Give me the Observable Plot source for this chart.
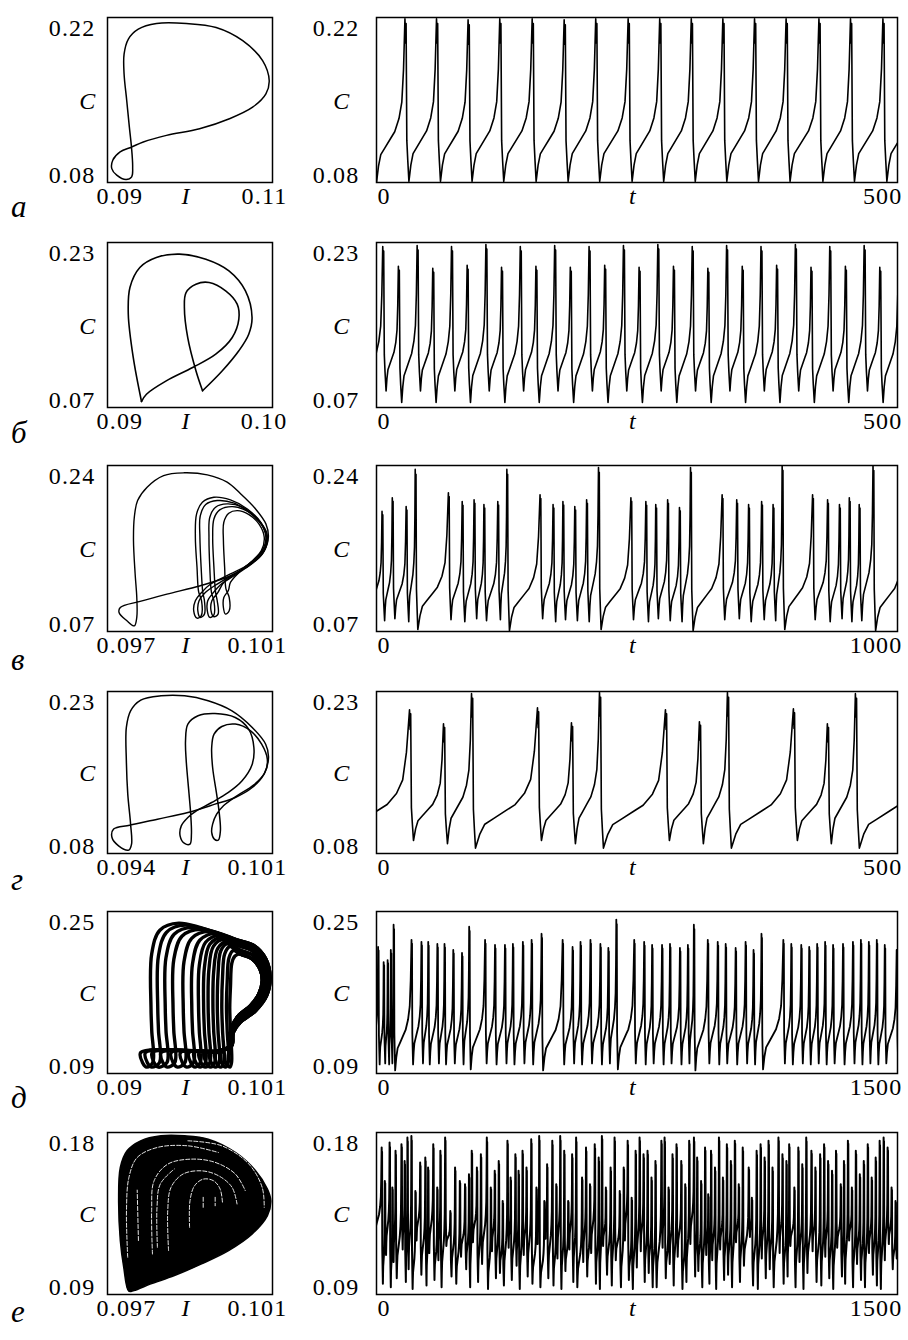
<!DOCTYPE html>
<html><head><meta charset="utf-8">
<script src="https://cdn.jsdelivr.net/npm/d3@7"></script>
<script src="https://cdn.jsdelivr.net/npm/@observablehq/plot@0.6"></script>
<style>
body{margin:0;background:#fff;}
#fig{position:relative;width:908px;height:1340px;background:#fff;overflow:hidden;}
.panel{position:absolute;}
.letter{position:absolute;font-family:"Liberation Serif","Times New Roman",serif;font-style:italic;font-size:31px;line-height:1;color:#000;}
</style></head><body><div id="fig"></div>
<script>
// ---------------- axes / labels ----------------
const rowLetters = ["а","б","в","г","д","е"];
const phaseIDomain = [[0.09,0.11],[0.09,0.10],[0.097,0.101],[0.094,0.101],[0.09,0.101],[0.097,0.101]];
const phaseILabels = [["0.09","0.11"],["0.09","0.10"],["0.097","0.101"],["0.094","0.101"],["0.09","0.101"],["0.097","0.101"]];
const cDomain = [[0.08,0.22],[0.07,0.23],[0.07,0.24],[0.08,0.23],[0.09,0.25],[0.09,0.18]];
const cLabels = [["0.08","0.22"],["0.07","0.23"],["0.07","0.24"],["0.08","0.23"],["0.09","0.25"],["0.09","0.18"]];
const tMax = [500,500,1000,500,1500,1500];
const tLabels = [["0","500"],["0","500"],["0","1000"],["0","500"],["0","1500"],["0","1500"]];

// ---------------- phase portraits (I, C) ----------------
const phaseA = [[0.09594,0.2149],[0.09956,0.2149],[0.10317,0.2115],[0.10639,0.2003],[0.1088,0.1834],[0.1096,0.1665],[0.1092,0.1552],[0.10759,0.1439],[0.10478,0.1341],[0.10116,0.1256],[0.09715,0.12],[0.09434,0.1144],[0.09293,0.1101],[0.09153,0.1059],[0.09064,0.0989],[0.09052,0.0918],[0.09112,0.0862],[0.09225,0.0825],[0.09293,0.0848],[0.09305,0.0932],[0.0929,0.1105],[0.09265,0.127],[0.09233,0.1496],[0.09201,0.1721],[0.09201,0.189],[0.09253,0.2017],[0.09373,0.2101]];

const phaseBOuter = [[0.09206,0.0758],[0.09156,0.1185],[0.09126,0.1605],[0.09136,0.1864],[0.09196,0.2058],[0.09296,0.2155],[0.09436,0.2187],[0.09596,0.2138],[0.09736,0.2025],[0.09836,0.1831],[0.09876,0.1573],[0.09856,0.1411],[0.09796,0.125],[0.09696,0.1056],[0.09576,0.0862]];
const phaseBInner = [[0.09576,0.0862],[0.09536,0.1056],[0.09486,0.1379],[0.09466,0.167],[0.09476,0.1815],[0.09536,0.1896],[0.09616,0.1912],[0.09716,0.1831],[0.09786,0.1702],[0.09796,0.1557],[0.09756,0.1379],[0.09656,0.1217],[0.09516,0.1088],[0.09356,0.0958],[0.09236,0.0829],[0.09206,0.0758]];

const phaseVOuter = [[0.09771,0.1049],[0.09767,0.1289],[0.09763,0.1631],[0.09765,0.187],[0.09773,0.2041],[0.09796,0.2178],[0.09836,0.2297],[0.09885,0.2325],[0.09942,0.2304],[0.0999,0.2229],[0.10023,0.2109],[0.10059,0.1955],[0.10084,0.1802],[0.1009,0.1665],[0.1008,0.1528],[0.10047,0.1391],[0.09998,0.1271],[0.09925,0.1169],[0.09844,0.1083],[0.09779,0.1008],[0.09731,0.0946],[0.09728,0.0895],[0.09747,0.081],[0.09765,0.0758],[0.09771,0.0845]];
const phaseV1 = [[0.09921,0.1105],[0.09917,0.1357],[0.09913,0.1665],[0.09916,0.1904],[0.0993,0.2024],[0.09958,0.2075],[0.09998,0.2048],[0.10039,0.1955],[0.10071,0.1819],[0.10084,0.1665],[0.10075,0.1528],[0.10043,0.1391],[0.09998,0.1289],[0.0995,0.1186],[0.09927,0.1095],[0.09913,0.1015],[0.09909,0.0912],[0.09917,0.0837],[0.09927,0.0861],[0.09928,0.1015]];
const phaseV2 = [[0.09931,0.11],[0.09927,0.1357],[0.09924,0.1665],[0.09925,0.1887],[0.09938,0.2],[0.09966,0.2041],[0.10007,0.2014],[0.10043,0.1921],[0.10075,0.1784],[0.10086,0.1648],[0.10078,0.1511],[0.10047,0.1384],[0.10007,0.1289],[0.09966,0.1186],[0.09936,0.1095],[0.09922,0.1015],[0.09919,0.0912],[0.09925,0.0844],[0.09935,0.0878],[0.09935,0.1015]];
const phaseV3 = [[0.09952,0.11],[0.09948,0.1357],[0.09946,0.1665],[0.09948,0.187],[0.09962,0.1973],[0.0999,0.2007],[0.10027,0.1973],[0.10059,0.187],[0.10084,0.1733],[0.10088,0.1631],[0.10075,0.1494],[0.10043,0.1374],[0.10007,0.1271],[0.09974,0.1179],[0.09956,0.1095],[0.09943,0.1015],[0.09942,0.0912],[0.09948,0.0844],[0.09958,0.0871],[0.09958,0.1015]];
const phaseV4 = [[0.09962,0.11],[0.09958,0.1357],[0.09955,0.1665],[0.09958,0.1853],[0.09972,0.1945],[0.10003,0.1979],[0.10039,0.1932],[0.10071,0.1819],[0.10085,0.1682],[0.1008,0.1545],[0.10051,0.1418],[0.10015,0.1306],[0.09982,0.1203],[0.09967,0.1095],[0.09953,0.1015],[0.09951,0.0912],[0.09958,0.0851],[0.09968,0.0878],[0.09966,0.1015]];
const phaseV5 = [[0.09987,0.114],[0.09984,0.1357],[0.09981,0.1631],[0.09982,0.1819],[0.09994,0.1911],[0.10015,0.1938],[0.10043,0.1897],[0.10067,0.1802],[0.1008,0.1665],[0.10073,0.1528],[0.10047,0.1408],[0.10019,0.1306],[0.09998,0.1203],[0.09993,0.112],[0.09982,0.1049],[0.09981,0.0946],[0.09986,0.0878],[0.09995,0.0912],[0.09995,0.1049]];

const phaseGBig = [[0.09498,0.1072],[0.09486,0.135],[0.0948,0.1658],[0.0948,0.1967],[0.09498,0.2121],[0.09541,0.222],[0.09627,0.226],[0.09727,0.226],[0.09827,0.2214],[0.09928,0.2121],[0.10014,0.1967],[0.10071,0.1812],[0.10083,0.1689],[0.10064,0.1535],[0.10014,0.1411],[0.09942,0.1319],[0.09856,0.1257],[0.09741,0.118],[0.09612,0.1118],[0.09494,0.1062],[0.09426,0.1026],[0.09419,0.0948],[0.09447,0.0871],[0.0949,0.0831],[0.09502,0.0887]];
const phaseGMid = [[0.09753,0.1164],[0.09746,0.135],[0.09734,0.1658],[0.09731,0.1843],[0.09741,0.1998],[0.09784,0.2075],[0.09856,0.2096],[0.09942,0.2059],[0.09999,0.1951],[0.10021,0.1782],[0.10014,0.1627],[0.09971,0.1473],[0.09913,0.1365],[0.09842,0.1272],[0.09777,0.1195],[0.09741,0.1134],[0.09713,0.1056],[0.09708,0.0964],[0.09727,0.0893],[0.0975,0.0887],[0.09756,0.0979]];
const phaseGSmall = [[0.09873,0.1195],[0.09863,0.135],[0.09846,0.1596],[0.09842,0.1782],[0.09852,0.1905],[0.09885,0.1976],[0.09942,0.1998],[0.10007,0.1936],[0.10054,0.1812],[0.10078,0.1674],[0.10068,0.155],[0.10021,0.1436],[0.09949,0.1334],[0.09892,0.1242],[0.09863,0.1164],[0.09846,0.1072],[0.09842,0.0995],[0.09853,0.0933],[0.0987,0.0924],[0.09879,0.101]];

// д: bundle of loops — per-loop left leg, top, hook, and which right lobe it follows
const phaseDLegI = [0.09295,0.0934,0.0939,0.09442,0.0951,0.09567,0.09612,0.09646,0.09676,0.09708,0.09737,0.09767,0.09798,0.0982];
const phaseDTopC = [0.2385,0.2365,0.2345,0.2325,0.2305,0.2286,0.2266,0.2246,0.2226,0.2206,0.218,0.2154,0.2114,0.206];
const phaseDTopDI = [0.0018,0.0018,0.0018,0.0018,0.0017,0.0016,0.0014,0.0012,0.001,0.0009,0.0006,0.0005,0.0004,0.0003];
const phaseDHookI = [0.09222,0.09254,0.09299,0.09358,0.09426,0.09488,0.09544,0.09578,0.09612,0.09646,0.0968,0.09714,0.09748,0.09776];
const phaseDRightIdx = [0,3,0,3,0,1,4,1,4,1,2,2,2,2];
const phaseDHookDI = [0,0.00011,0.0004];
const phaseDHookC = [0.1108,0.1009,0.0963];
const phaseDRight = [
  [[0.09862,0.222],[0.09975,0.2164],[0.10055,0.2032],[0.10084,0.185],[0.10061,0.1669],[0.09987,0.152],[0.09885,0.1405],[0.09839,0.1306],[0.09828,0.1174],[0.09748,0.1124]],
  [[0.09873,0.2164],[0.09964,0.2114],[0.10032,0.1999],[0.10055,0.1834],[0.10032,0.1685],[0.09964,0.1553],[0.09873,0.1438],[0.09835,0.1322],[0.09823,0.1174],[0.09737,0.1118]],
  [[0.09885,0.2081],[0.09964,0.2032],[0.10016,0.1933],[0.10032,0.1817],[0.10009,0.1685],[0.09953,0.157],[0.09873,0.1471],[0.09828,0.1355],[0.09816,0.1174],[0.09726,0.1108]],
  [[0.09868,0.2192],[0.0997,0.2139],[0.10044,0.2016],[0.1007,0.1842],[0.10047,0.1677],[0.09976,0.1537],[0.09879,0.1422],[0.09837,0.1314],[0.09826,0.1174],[0.09742,0.1121]],
  [[0.09879,0.2122],[0.09964,0.2073],[0.10024,0.1966],[0.10044,0.1826],[0.10021,0.1685],[0.09959,0.1562],[0.09873,0.1455],[0.09832,0.1339],[0.0982,0.1174],[0.09732,0.1113]]
];

// е: filled chaotic attractor outline and the light gaps inside it
const phaseEOutline = [[0.097516,0.09185],[0.097393,0.10515],[0.097311,0.11994],[0.09727,0.14212],[0.097311,0.1606],[0.097475,0.16984],[0.097803,0.17538],[0.098295,0.17815],[0.098869,0.17815],[0.099443,0.1763],[0.100098,0.16891],[0.10059,0.15875],[0.100877,0.14858],[0.100959,0.14212],[0.100877,0.1338],[0.100508,0.12364],[0.099935,0.1144],[0.099279,0.10701],[0.098623,0.10053],[0.098049,0.09591],[0.097639,0.09222]];
const phaseEGaps = [
  [[0.09749,0.1107],[0.09746,0.1366],[0.09752,0.1551],[0.09772,0.1661],[0.09821,0.1717],[0.09895,0.1726],[0.09969,0.1689]],
  [[0.09809,0.1125],[0.09807,0.1366],[0.09813,0.1532],[0.09846,0.1624],[0.09903,0.1652],[0.09961,0.1634],[0.1001,0.1569],[0.10034,0.1477]],
  [[0.09848,0.1144],[0.09846,0.1366],[0.09854,0.1495],[0.09883,0.1569],[0.09928,0.1587],[0.09969,0.156],[0.10002,0.1495],[0.10014,0.1403]],
  [[0.09899,0.1273],[0.099,0.1421],[0.09911,0.1504],[0.09932,0.1541],[0.09957,0.1532],[0.09973,0.1486],[0.09979,0.1403]],
  [[0.09821,0.1162],[0.0982,0.1384],[0.09828,0.1514],[0.09862,0.1597]],
  [[0.09895,0.1754],[0.09977,0.1726],[0.10043,0.1624],[0.10075,0.1495],[0.1008,0.1384]],
  [[0.09932,0.144],[0.09932,0.1384]],
  [[0.09961,0.144],[0.09961,0.1393]],
  [[0.09775,0.1200],[0.09772,0.1480]]
];

// ---------------- time series C(t): spike times, peak values, trough before each peak ----------------
const riseU = [0,0.07,0.15,0.29,0.5,0.64,0.79,0.89,0.95,1];
const riseV = [0,0.1,0.17,0.21,0.27,0.31,0.39,0.49,0.69,1];
const fallV = [1,0.85,0.97,0.25,0.13,0];

const tsAStart = 0;
const tsAPeakT = [27.3,57.6,87.9,118.3,149.4,180.1,210.4,241.5,271.8,302.1,332.4,362.8,393.1,424.6,454.9,486.0,516.5];
const tsAPeakC = [0.219,0.219,0.218,0.219,0.219,0.218,0.219,0.219,0.219,0.219,0.219,0.219,0.219,0.219,0.219,0.219,0.219];
const tsATroughC = [0.08,0.081,0.081,0.081,0.081,0.081,0.081,0.081,0.081,0.081,0.081,0.081,0.081,0.081,0.081,0.081,0.081];
const tsAFallDT = [0,0.6,1.1,1.8,2.7,3.8];

const tsBStart = -12;
const tsBPeakT = [6,21,39,54,72,87,105,120,138,153,171,186,204,219,237,252,270,285,303,318,336,351,369,384,402,417,435,450,468,483,501,516];
const tsBPeakC = [0.226,0.207,0.227,0.205,0.226,0.208,0.228,0.206,0.226,0.207,0.227,0.206,0.226,0.208,0.227,0.206,0.228,0.207,0.226,0.205,0.227,0.207,0.226,0.208,0.228,0.206,0.226,0.207,0.227,0.206,0.226,0.207];
const tsBTroughC = [0.075,0.086,0.075,0.086,0.075,0.086,0.075,0.086,0.075,0.086,0.075,0.086,0.075,0.086,0.075,0.086,0.075,0.086,0.075,0.086,0.075,0.086,0.075,0.086,0.075,0.086,0.075,0.086,0.075,0.086,0.075,0.086];
const tsBFallDT = [0,0.5,0.9,1.5,2.2,3.2];

const tsVStart = -6;
const tsVPeakT = [10.6,30.3,56.9,74.3,138,164.5,187.3,206.2,232.8,250.2,313.9,338.9,357.8,380.6,403.3,426.1,488.3,517,536,558.8,581.5,602.7,663.4,691.4,714.2,739.2,761.2,778.6,837,865.8,888.6,907.5,926.5,953,1015];
const tsVPeakC = [0.193,0.207,0.198,0.236,0.212,0.203,0.205,0.2,0.203,0.236,0.21,0.2,0.203,0.198,0.205,0.238,0.207,0.203,0.2,0.205,0.197,0.238,0.21,0.205,0.2,0.203,0.2,0.24,0.21,0.205,0.2,0.207,0.2,0.24,0.21];
const tsVTroughC = [0.09,0.081,0.083,0.08,0.072,0.082,0.08,0.083,0.081,0.082,0.071,0.083,0.08,0.082,0.081,0.08,0.072,0.082,0.08,0.083,0.081,0.08,0.071,0.082,0.083,0.08,0.082,0.081,0.072,0.082,0.08,0.083,0.08,0.081,0.071];
const tsVFallDT = [0,0.8,1.5,2.4,3.6,5];

const tsGStart = -28;
const tsGPeakT = [31.7,64.3,91.2,154.5,187.1,214,277.3,309.9,336.8,400.1,432.7,459.6,522.9];
const tsGPeakC = [0.213,0.2,0.228,0.215,0.201,0.229,0.213,0.202,0.229,0.214,0.2,0.228,0.214];
const tsGTroughC = [0.086,0.092,0.089,0.085,0.092,0.089,0.085,0.092,0.089,0.085,0.092,0.089,0.085];
const tsGFallDT = [0,0.6,1.1,1.8,2.7,3.8];

const tsDStart = -10;
const tsDPeakT = [4.6,20.6,32,41.2,49.2,100.8,129.4,148.9,175.2,195.8,221,246.2,266.8,312.6,341.2,369.8,392.7,421.4,446.6,475.2,535.9,564.5,587.4,616,644.6,667.5,690.4,742,770.6,793.5,822.1,845,873.6,896.5,913.7,953.8,982.4,1005.3,1034,1062.6,1085.5,1108.4,1171.3,1194.2,1222.9,1245.8,1268.7,1291.6,1314.5,1343.1,1371.7,1394.6,1417.5,1440.4,1463.3,1497.6,1520];
const tsDPeakC = [0.215,0.2,0.202,0.212,0.237,0.222,0.22,0.22,0.218,0.218,0.212,0.209,0.235,0.222,0.217,0.217,0.218,0.22,0.222,0.228,0.222,0.215,0.22,0.222,0.218,0.214,0.242,0.222,0.22,0.217,0.217,0.218,0.214,0.217,0.237,0.222,0.22,0.218,0.214,0.22,0.212,0.228,0.222,0.218,0.217,0.215,0.218,0.22,0.217,0.218,0.22,0.222,0.22,0.222,0.217,0.212,0.22];
const tsDTroughC = [0.105,0.099,0.1,0.099,0.1,0.093,0.099,0.1,0.099,0.1,0.099,0.1,0.099,0.094,0.1,0.099,0.1,0.099,0.1,0.099,0.093,0.099,0.1,0.099,0.1,0.099,0.1,0.094,0.1,0.099,0.1,0.099,0.1,0.099,0.1,0.093,0.1,0.099,0.1,0.099,0.1,0.099,0.094,0.1,0.099,0.1,0.099,0.1,0.099,0.1,0.099,0.1,0.099,0.1,0.099,0.1,0.099];
const tsDFallDT = [0,0.8,1.5,2.3,3.3,4.5];

const tsEStart = -6;
const tsEPeakT = [14.9,24,37.7,45.7,54.8,71.9,81,89,100.5,111.9,125.7,140.5,148.5,163.4,174.8,183.9,197.6,212.5,226.2,239.9,254.8,266.2,274.2,289,300.5,317.6,329,340.4,351.9,363.3,377,386.1,399.8,409,420.4,431.8,445.5,460.4,468.4,483.2,491.2,506.1,517.5,528.9,540.4,551.8,563.2,574.7,591.8,603.2,614.6,628.3,639.7,648.9,660.3,674,685.4,700.3,711.7,723.1,734.6,746,757.4,768.8,780.3,791.7,803.1,820.2,829.4,840.8,852.2,863.7,877.4,888.8,900.2,913.9,923.1,934.5,945.9,955,963.1,974.5,985.9,997.3,1008.7,1020.2,1031.6,1043,1054.4,1071.6,1080.7,1094.4,1105.8,1117.3,1128.7,1140.1,1157.2,1168.7,1180.1,1188.1,1203,1214.4,1225.8,1237.2,1252.1,1263.5,1277.2,1288.6,1300.1,1311.5,1322.9,1336.6,1345.8,1357.2,1368.6,1380,1391.5,1402.9,1414.3,1425.7,1437.2,1448.6,1460,1471.5,1482.9,1494.3,1506];
const tsEPeakC = [0.1716,0.1531,0.1744,0.1494,0.1698,0.1735,0.1642,0.1772,0.1781,0.1475,0.1633,0.1661,0.1605,0.1735,0.1494,0.1698,0.1772,0.1364,0.1605,0.1531,0.1512,0.1568,0.1698,0.1605,0.1679,0.1772,0.1494,0.1587,0.1642,0.142,0.1754,0.155,0.1679,0.1587,0.1698,0.1605,0.1763,0.1494,0.1781,0.142,0.1624,0.1754,0.1512,0.1781,0.1698,0.142,0.1679,0.1772,0.155,0.1716,0.1512,0.1735,0.1661,0.1781,0.1494,0.1605,0.1772,0.1475,0.1605,0.1754,0.1438,0.1698,0.1772,0.1679,0.1698,0.155,0.1642,0.1754,0.1772,0.1494,0.1679,0.1735,0.1642,0.1512,0.1754,0.1772,0.1661,0.1531,0.1716,0.1457,0.1698,0.1605,0.1772,0.155,0.1735,0.1642,0.1754,0.1512,0.1716,0.1605,0.1438,0.1698,0.1735,0.1661,0.1754,0.1605,0.1772,0.1679,0.1642,0.1735,0.1494,0.1716,0.1624,0.1772,0.1698,0.1605,0.1679,0.1735,0.1642,0.1587,0.1698,0.1512,0.1642,0.1754,0.1494,0.1698,0.1568,0.1642,0.1735,0.155,0.1661,0.1754,0.1772,0.1716,0.1494,0.142,0.165];
const tsETroughC = [0.118,0.096,0.112,0.094,0.108,0.099,0.115,0.097,0.104,0.093,0.12,0.101,0.095,0.113,0.098,0.109,0.094,0.117,0.1,0.096,0.111,0.104,0.094,0.119,0.097,0.107,0.093,0.114,0.099,0.102,0.095,0.116,0.098,0.106,0.093,0.112,0.1,0.096,0.118,0.094,0.121,0.099,0.095,0.11,0.093,0.103,0.115,0.097,0.094,0.108,0.1,0.113,0.096,0.093,0.117,0.101,0.095,0.109,0.094,0.12,0.098,0.093,0.105,0.114,0.097,0.102,0.094,0.094,0.116,0.099,0.107,0.095,0.111,0.093,0.097,0.118,0.1,0.103,0.094,0.112,0.096,0.109,0.093,0.115,0.098,0.101,0.094,0.119,0.097,0.106,0.122,0.095,0.093,0.11,0.099,0.104,0.094,0.113,0.096,0.1,0.117,0.094,0.108,0.093,0.102,0.114,0.097,0.095,0.111,0.099,0.093,0.116,0.1,0.096,0.12,0.094,0.107,0.098,0.094,0.113,0.101,0.095,0.093,0.109,0.118,0.104,0.11];
const tsEFallDT = [0,0.6,1.1,1.8,2.6,3.5];

// ---------------- builders ----------------
function buildSeries(startT, peakT, peakC, troughC, fallDT) {
  const pts = [];
  let tm = startT;
  for (let i = 0; i < peakT.length; i++) {
    const m = troughC[i], p = peakC[i], tp = peakT[i];
    for (let j = (i === 0 ? 0 : 1); j < riseU.length; j++)
      pts.push({t: tm + riseU[j] * (tp - tm), C: m + riseV[j] * (p - m)});
    if (i + 1 < peakT.length) {
      const m2 = troughC[i + 1];
      for (let j = 1; j < fallDT.length; j++)
        pts.push({t: tp + fallDT[j], C: m2 + fallV[j] * (p - m2)});
      tm = tp + fallDT[fallDT.length - 1];
    }
  }
  return pts;
}
function loopsTable(loops) {
  const rows = [];
  loops.forEach((loop, k) => loop.forEach(([I, C]) => rows.push({I, C, k})));
  return rows;
}
function buildD() {
  const loops = [];
  for (let k = 0; k < phaseDLegI.length; k++) {
    const L = phaseDLegI[k], T = phaseDTopC[k], H = phaseDHookI[k];
    const pts = [];
    for (let j = 0; j < phaseDHookDI.length; j++) pts.push([H + phaseDHookDI[j], phaseDHookC[j]]);
    pts.push([L + 0.00007, 0.1009], [L, 0.1322], [L - 0.00005, 0.155], [L, T - 0.03],
             [L + phaseDTopDI[k] * 0.3, T - 0.007], [L + phaseDTopDI[k], T]);
    for (const q of phaseDRight[phaseDRightIdx[k]]) pts.push(q);
    loops.push(pts);
  }
  return loops;
}

// ---------------- layout ----------------
const FONT = "Liberation Serif, Times New Roman, serif";
const rowTop = [17, 242, 465, 691, 911, 1132];
const rowBottom = [182, 407, 631, 853, 1073, 1294];
const letterBase = [217, 443, 670, 890, 1108, 1322];
const MT = 12, MB = 44;
const fig = document.getElementById("fig");

function place(svg, left, top, width) {
  const d = document.createElement("div");
  d.className = "panel";
  d.style.left = left + "px"; d.style.top = top + "px"; d.style.width = width + "px";
  d.appendChild(svg); fig.appendChild(d);
}
function labels(r, xDom, xLab, xName, kind) {
  const ph = kind === "phase";
  const yDom = cDomain[r], yLab = cLabels[r];
  const f = {fontFamily: FONT, fontSize: 24};
  return [
    Plot.text([{v: xDom[0], s: xLab[0]}], {...f, x: "v", text: "s", frameAnchor: "bottom", textAnchor: "start", dx: ph ? -11 : 1, dy: 21}),
    Plot.text([{v: xDom[1], s: xLab[1]}], {...f, x: "v", text: "s", frameAnchor: "bottom", textAnchor: "end", dx: ph ? 15 : 5, dy: 21}),
    Plot.text([{v: yDom[1], s: yLab[1]}], {...f, y: "v", text: "s", frameAnchor: "left", textAnchor: "end", dx: ph ? -12 : -17, dy: 11}),
    Plot.text([{v: yDom[0], s: yLab[0]}], {...f, y: "v", text: "s", frameAnchor: "left", textAnchor: "end", dx: ph ? -12 : -17, dy: -7}),
    Plot.text(["C"], {...f, frameAnchor: "left", textAnchor: "end", dx: ph ? -11 : -26, dy: 1, fontStyle: "italic"}),
    Plot.text([xName], {...f, frameAnchor: "bottom", dx: -4, dy: 21, fontStyle: "italic"}),
    Plot.frame({stroke: "black", strokeWidth: 1.5})
  ];
}
const style = {fontFamily: FONT, fontSize: "24px", letterSpacing: "1.2px", background: "transparent", color: "black", overflow: "visible"};

function phasePlot(r, marks) {
  const h = rowBottom[r] - rowTop[r] + MT + MB;
  const svg = Plot.plot({
    width: 300, height: h, marginLeft: 107, marginRight: 28, marginTop: MT, marginBottom: MB,
    x: {domain: phaseIDomain[r], axis: null}, y: {domain: cDomain[r], axis: null},
    style, marks: [...marks, ...labels(r, phaseIDomain[r], phaseILabels[r], "I", "phase")]
  });
  place(svg, 0, rowTop[r] - MT, 300);
}
function tsPlot(r, pts, sw) {
  const h = rowBottom[r] - rowTop[r] + MT + MB;
  const svg = Plot.plot({
    width: 618, height: h, marginLeft: 86, marginRight: 11, marginTop: MT, marginBottom: MB,
    x: {domain: [0, tMax[r]], axis: null}, y: {domain: cDomain[r], axis: null},
    style, marks: [
      Plot.line(pts, {x: "t", y: "C", stroke: "black", strokeWidth: sw, clip: true}),
      ...labels(r, [0, tMax[r]], tLabels[r], "t", "ts")
    ]
  });
  place(svg, 290, rowTop[r] - MT, 618);
}
const lineOpts = (sw, curve) => ({x: "I", y: "C", z: "k", stroke: "black", strokeWidth: sw, curve});

// ---------------- draw ----------------
phasePlot(0, [Plot.line(loopsTable([phaseA]), lineOpts(1.5, "catmull-rom-closed"))]);
phasePlot(1, [Plot.line(loopsTable([phaseBOuter, phaseBInner]), lineOpts(1.6, "catmull-rom"))]);
phasePlot(2, [Plot.line(loopsTable([phaseVOuter, phaseV1, phaseV2, phaseV3, phaseV4, phaseV5]), lineOpts(1.4, "catmull-rom-closed"))]);
phasePlot(3, [Plot.line(loopsTable([phaseGBig, phaseGMid, phaseGSmall]), lineOpts(1.5, "catmull-rom-closed"))]);
phasePlot(4, [Plot.line(loopsTable(buildD()), lineOpts(3.4, "catmull-rom-closed"))]);
phasePlot(5, [
  Plot.line(loopsTable([phaseEOutline]), {...lineOpts(1.5, "catmull-rom-closed"), fill: "black"}),
  Plot.line(loopsTable(phaseEGaps), {...lineOpts(0.9, "catmull-rom"), stroke: "white", strokeDasharray: "4,2"})
]);

tsPlot(0, buildSeries(tsAStart, tsAPeakT, tsAPeakC, tsATroughC, tsAFallDT), 1.6);
tsPlot(1, buildSeries(tsBStart, tsBPeakT, tsBPeakC, tsBTroughC, tsBFallDT), 1.6);
tsPlot(2, buildSeries(tsVStart, tsVPeakT, tsVPeakC, tsVTroughC, tsVFallDT), 1.6);
tsPlot(3, buildSeries(tsGStart, tsGPeakT, tsGPeakC, tsGTroughC, tsGFallDT), 1.6);
tsPlot(4, buildSeries(tsDStart, tsDPeakT, tsDPeakC, tsDTroughC, tsDFallDT), 1.8);
tsPlot(5, buildSeries(tsEStart, tsEPeakT, tsEPeakC, tsETroughC, tsEFallDT), 2);

rowLetters.forEach((s, r) => {
  const d = document.createElement("div");
  d.className = "letter"; d.textContent = s;
  d.style.left = "11px"; d.style.top = (letterBase[r] - 26) + "px";
  fig.appendChild(d);
});
</script></body></html>
